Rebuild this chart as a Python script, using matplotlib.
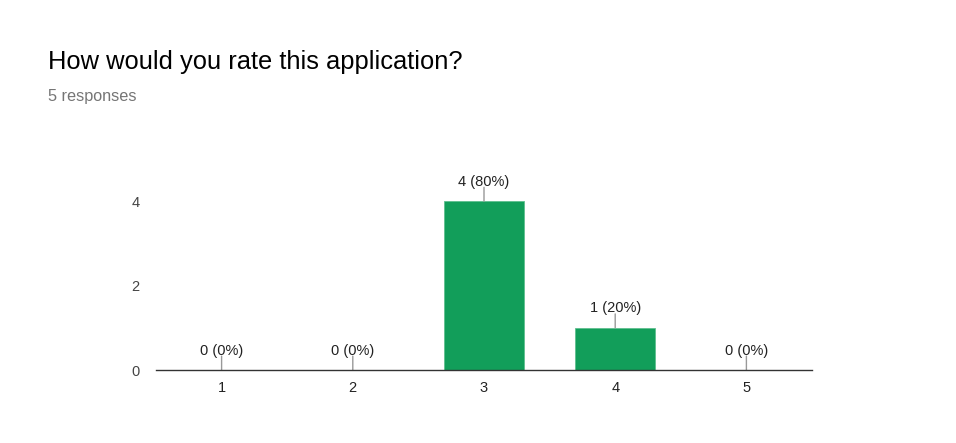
import matplotlib.pyplot as plt

plt.rcParams['font.family'] = ['Liberation Sans', 'DejaVu Sans']

# data
ratings = ['1', '2', '3', '4', '5']
counts = [0, 0, 4, 1, 0]
labels = ['0 (0%)', '0 (0%)', '4 (80%)', '1 (20%)', '0 (0%)']
yticks = [0, 2, 4]

fig = plt.figure(figsize=(9.56, 4.43), dpi=100)
ax = fig.add_axes([156 / 956, 73 / 443, 656 / 956, 211 / 443])

xs = range(len(ratings))
ax.bar(xs, counts, width=0.61, color='#129e5a', edgecolor='#5fbf8f', linewidth=0.6, zorder=2)

for i, (v, lab) in enumerate(zip(counts, labels)):
    ax.annotate('', xy=(i, v), xytext=(0, 10), textcoords='offset points',
                arrowprops=dict(arrowstyle='-', color='#999999', lw=1, shrinkA=0, shrinkB=0))
    ax.annotate(lab, xy=(i, v), xytext=(0, 9), textcoords='offset points',
                ha='center', va='bottom', fontsize=10.5, color='#222222')

ax.set_xlim(-0.5, 4.5)
ax.set_ylim(0, 5)
ax.set_xticks(list(xs))
ax.set_xticklabels(ratings, fontsize=10.5, color='#222222')
ax.set_yticks(yticks)
ax.set_yticklabels([str(t) for t in yticks], fontsize=10.5, color='#444444')
ax.tick_params(length=0)
ax.tick_params(axis='x', pad=8)
ax.tick_params(axis='y', pad=12)
for s in ['top', 'right', 'left']:
    ax.spines[s].set_visible(False)
ax.spines['bottom'].set_color('#333333')
ax.spines['bottom'].set_linewidth(1)
ax.spines['bottom'].set_zorder(3)

fig.text(48 / 956, 1 - 62 / 443, 'How would you rate this application?', fontsize=18.4,
         color='#000000', va='center', ha='left')
fig.text(48 / 956, 1 - 97 / 443, '5 responses', fontsize=11.7, color='#757575',
         va='center', ha='left')

fig.savefig('out.png', dpi=100)
